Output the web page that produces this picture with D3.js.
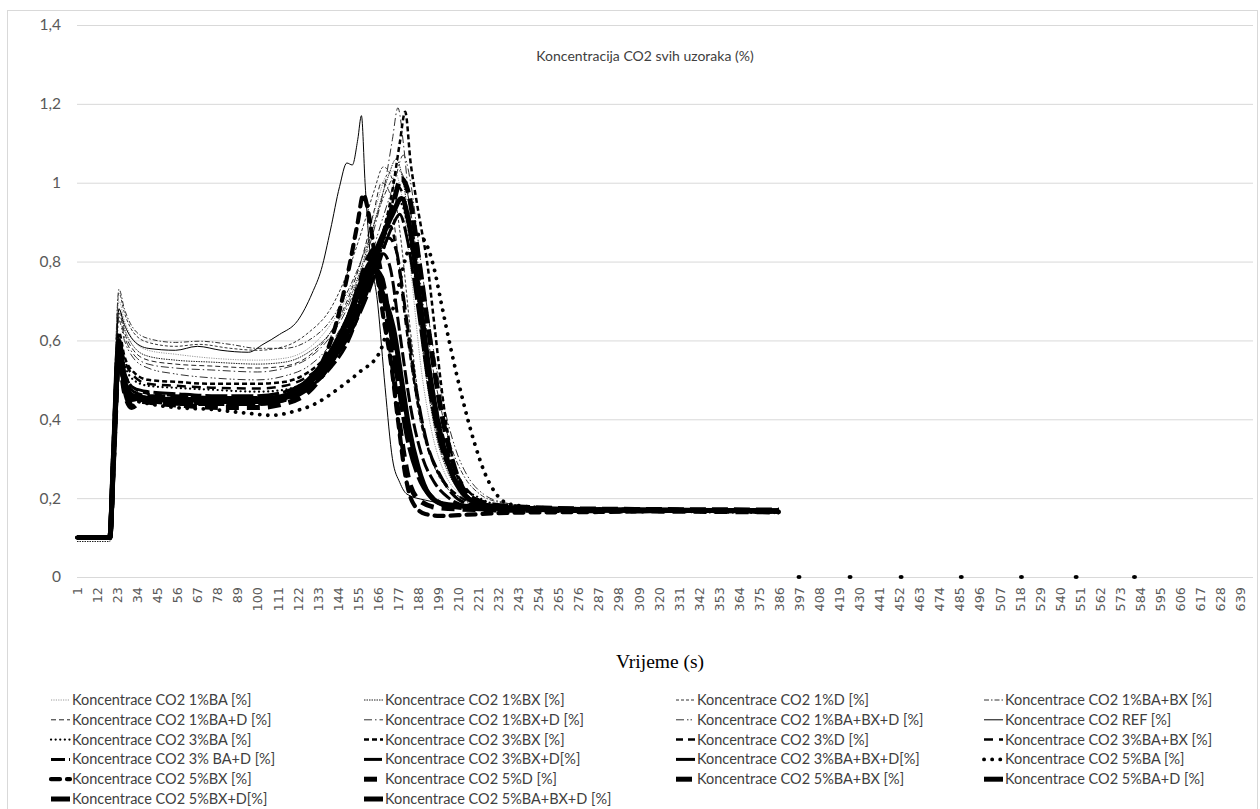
<!DOCTYPE html>
<html>
<head>
<meta charset="utf-8">
<script src="https://cdn.jsdelivr.net/npm/d3@7"></script>
<style>
  html, body { margin: 0; padding: 0; background: #fff; }
  svg { display: block; }
</style>
</head>
<body>
<svg id="chart" width="1260" height="809"></svg>
<script>
// ---------------- DATA ----------------
const chartTitle = "Koncentracija CO2 svih uzoraka (%)";
const xTitle = "Vrijeme (s)";
const yTicks = [0, 0.2, 0.4, 0.6, 0.8, 1.0, 1.2, 1.4];
const xTickLabels = d3.range(1, 646, 11); // 1, 12, 23, ... 639
const xMax = 646;
const zeroMarks = [397, 425, 453, 486, 519, 549, 581];

const seriesNames = [
  "Koncentrace CO2 1%BA [%]", "Koncentrace CO2 1%BX [%]", "Koncentrace CO2 1%D [%]", "Koncentrace CO2 1%BA+BX [%]",
  "Koncentrace CO2 1%BA+D [%]", "Koncentrace CO2 1%BX+D [%]", "Koncentrace CO2 1%BA+BX+D [%]", "Koncentrace CO2 REF [%]",
  "Koncentrace CO2 3%BA  [%]", "Koncentrace CO2 3%BX [%]", "Koncentrace CO2 3%D [%]", "Koncentrace CO2 3%BA+BX [%]",
  "Koncentrace CO2 3% BA+D [%]", "Koncentrace CO2 3%BX+D[%]", "Koncentrace CO2 3%BA+BX+D[%]", "Koncentrace CO2 5%BA [%]",
  "Koncentrace CO2 5%BX [%]", "Koncentrace CO2 5%D [%]", "Koncentrace CO2 5%BA+BX [%]", "Koncentrace CO2 5%BA+D [%]",
  "Koncentrace CO2 5%BX+D[%]", "Koncentrace CO2 5%BA+BX+D [%]"
];

// [time (s), CO2 %] pairs
const s1BA = [[1,.10],[19,.10],[21,.38],[24,.70],[27,.65],[32,.60],[40,.575],[55,.565],[75,.555],[100,.55],[115,.555],[128,.58],[140,.64],[150,.72],[158,.82],[165,.94],[171,1.02],[175,1.03],[179,.97],[184,.78],[190,.52],[196,.36],[203,.26],[211,.21],[220,.185],[240,.17],[280,.168],[330,.165],[386,.163]];
const s1BX = [[1,.09],[19,.09],[21,.36],[24,.68],[27,.63],[32,.585],[40,.56],[55,.55],[75,.545],[100,.54],[115,.545],[128,.57],[140,.62],[150,.70],[158,.80],[166,.93],[172,1.02],[176,1.06],[180,1.0],[185,.82],[191,.56],[197,.38],[204,.27],[212,.215],[222,.185],[240,.172],[280,.17],[330,.168],[386,.165]];
const s1D = [[1,.10],[19,.10],[21,.40],[24,.72],[27,.67],[32,.62],[40,.595],[55,.585],[68,.59],[85,.58],[100,.575],[115,.585],[128,.62],[140,.68],[150,.78],[158,.89],[164,.98],[169,1.04],[173,1.02],[178,.88],[184,.62],[190,.40],[197,.28],[205,.22],[214,.19],[230,.175],[280,.17],[330,.168],[386,.165]];
const s1BABX = [[1,.10],[19,.10],[21,.40],[24,.73],[27,.68],[32,.63],[40,.605],[55,.595],[68,.598],[85,.59],[100,.58],[115,.58],[128,.60],[140,.65],[150,.73],[160,.84],[168,.95],[174,1.01],[178,1.03],[182,.98],[187,.83],[193,.62],[200,.44],[207,.32],[214,.25],[222,.21],[232,.19],[260,.175],[320,.17],[386,.168]];
const s1BAD = [[1,.10],[19,.10],[21,.37],[24,.67],[27,.62],[32,.575],[40,.55],[55,.54],[75,.535],[100,.53],[115,.535],[128,.56],[140,.62],[150,.71],[158,.82],[164,.93],[168,1.0],[172,.98],[177,.82],[183,.58],[189,.40],[196,.29],[204,.23],[212,.20],[225,.18],[260,.17],[320,.165],[386,.163]];
const s1BXD = [[1,.10],[19,.10],[21,.36],[24,.66],[27,.61],[32,.565],[40,.54],[55,.53],[75,.525],[100,.52],[115,.53],[128,.555],[140,.61],[150,.69],[158,.79],[165,.90],[170,1.0],[174,1.11],[177,1.19],[180,1.10],[184,.90],[189,.65],[195,.45],[201,.32],[208,.24],[215,.20],[228,.18],[260,.172],[320,.168],[386,.165]];
const s1BABXD = [[1,.10],[19,.10],[21,.35],[24,.65],[27,.60],[32,.555],[40,.53],[55,.515],[75,.505],[100,.50],[115,.51],[128,.535],[140,.59],[150,.67],[160,.78],[168,.90],[175,1.0],[180,1.07],[184,1.0],[189,.82],[195,.62],[202,.44],[209,.32],[216,.25],[224,.21],[234,.19],[260,.175],[320,.17],[386,.168]];
const sREF = [[1,.10],[19,.10],[21,.36],[24,.68],[27,.64],[32,.60],[40,.58],[55,.575],[67,.585],[80,.575],[95,.57],[103,.59],[112,.615],[122,.65],[130,.72],[135,.78],[140,.88],[145,.99],[149,1.05],[152,1.045],[155,1.11],[157,1.17],[159,1.0],[161,.86],[166,.69],[170,.48],[174,.30],[178,.24],[182,.21],[192,.195],[205,.185],[230,.175],[280,.17],[330,.168],[386,.165]];
const s3BA = [[1,.10],[19,.10],[21,.33],[24,.60],[27,.54],[32,.50],[40,.485],[55,.48],[75,.475],[100,.47],[115,.475],[128,.50],[140,.55],[150,.62],[160,.72],[168,.83],[174,.92],[178,.95],[182,.90],[187,.74],[193,.54],[199,.39],[206,.29],[213,.23],[222,.20],[235,.18],[280,.17],[330,.165],[386,.162]];
const s3BX = [[1,.10],[19,.10],[21,.34],[24,.62],[27,.56],[32,.52],[40,.50],[55,.495],[75,.49],[100,.49],[115,.495],[128,.52],[140,.57],[150,.64],[160,.74],[168,.86],[174,.98],[178,1.10],[181,1.18],[184,1.05],[187,.96],[190,.88],[193,.80],[197,.64],[202,.44],[207,.30],[213,.22],[222,.185],[240,.172],[290,.168],[340,.17],[386,.165]];
const s3D = [[1,.10],[19,.10],[21,.32],[24,.58],[27,.52],[32,.48],[40,.465],[55,.46],[75,.455],[100,.455],[115,.46],[128,.485],[140,.54],[150,.61],[158,.70],[165,.80],[170,.87],[173,.89],[177,.80],[182,.62],[188,.44],[194,.32],[201,.25],[209,.21],[220,.185],[240,.172],[300,.17],[386,.168]];
const s3BABX = [[1,.10],[19,.10],[21,.33],[24,.60],[27,.55],[32,.51],[40,.49],[55,.485],[75,.48],[100,.478],[115,.485],[128,.51],[140,.56],[150,.63],[160,.73],[168,.84],[173,.93],[177,.99],[181,.95],[186,.80],[192,.60],[198,.43],[205,.31],[212,.24],[220,.20],[232,.18],[280,.172],[340,.17],[386,.168]];
const s3BAD = [[1,.10],[19,.10],[21,.31],[24,.57],[27,.50],[32,.46],[40,.45],[55,.45],[75,.445],[100,.445],[115,.455],[128,.48],[140,.53],[150,.60],[158,.70],[164,.78],[169,.82],[173,.78],[178,.62],[184,.43],[190,.31],[197,.24],[205,.20],[215,.18],[240,.17],[300,.168],[386,.165]];
const s3BXD = [[1,.10],[19,.10],[21,.31],[24,.57],[27,.51],[32,.47],[40,.46],[55,.46],[75,.455],[100,.455],[115,.46],[128,.49],[140,.54],[150,.61],[160,.71],[167,.80],[172,.86],[176,.83],[181,.68],[187,.48],[193,.34],[200,.26],[207,.21],[216,.185],[240,.172],[300,.17],[386,.167]];
const s3BABXD = [[1,.10],[19,.10],[21,.32],[24,.58],[27,.52],[32,.48],[40,.47],[55,.465],[75,.46],[100,.46],[115,.47],[128,.50],[140,.55],[150,.62],[160,.72],[168,.82],[174,.89],[178,.92],[182,.86],[188,.68],[194,.48],[200,.34],[207,.26],[214,.21],[224,.185],[250,.175],[310,.17],[386,.168]];
const s5BA = [[1,.10],[19,.10],[21,.30],[24,.56],[27,.49],[32,.45],[40,.44],[55,.43],[75,.425],[95,.415],[108,.41],[120,.42],[132,.44],[145,.48],[156,.52],[167,.57],[172,.64],[177,.73],[182,.82],[187,.87],[192,.85],[197,.78],[201,.69],[206,.58],[212,.46],[219,.34],[225,.26],[231,.21],[238,.185],[260,.175],[320,.17],[386,.168]];
const s5BX = [[1,.10],[19,.10],[21,.30],[24,.57],[27,.48],[30,.45],[34,.46],[40,.45],[55,.445],[75,.44],[100,.44],[115,.45],[125,.48],[135,.54],[143,.64],[150,.78],[155,.90],[158,.97],[161,.92],[165,.79],[169,.66],[173,.55],[177,.40],[181,.26],[185,.19],[192,.16],[200,.155],[215,.158],[240,.163],[290,.165],[340,.168],[386,.165]];
const s5D = [[1,.10],[19,.10],[21,.29],[24,.55],[27,.47],[31,.43],[36,.445],[45,.44],[60,.435],[80,.43],[100,.43],[115,.44],[128,.47],[138,.53],[147,.62],[155,.73],[160,.80],[164,.83],[168,.76],[172,.62],[176,.46],[180,.32],[184,.23],[190,.19],[200,.175],[230,.17],[290,.168],[386,.165]];
const s5BABX = [[1,.10],[19,.10],[21,.30],[24,.58],[27,.50],[31,.46],[36,.455],[45,.45],[60,.45],[80,.445],[100,.445],[115,.455],[128,.49],[140,.55],[150,.63],[160,.74],[168,.85],[174,.94],[179,1.01],[183,.97],[188,.82],[194,.62],[200,.44],[206,.31],[212,.23],[220,.195],[235,.18],[290,.172],[386,.17]];
const s5BAD = [[1,.10],[19,.10],[21,.30],[24,.58],[27,.49],[31,.45],[36,.455],[45,.45],[60,.45],[80,.448],[100,.447],[115,.455],[128,.49],[140,.56],[150,.66],[157,.75],[163,.80],[167,.74],[171,.69],[175,.62],[179,.50],[183,.38],[188,.28],[194,.21],[202,.185],[230,.175],[290,.17],[386,.168]];
const s5BXD = [[1,.10],[19,.10],[21,.30],[24,.57],[27,.48],[30,.44],[35,.45],[45,.445],[60,.44],[80,.44],[100,.44],[115,.45],[128,.48],[140,.54],[150,.63],[158,.72],[164,.78],[168,.76],[172,.66],[177,.50],[182,.36],[188,.26],[195,.205],[205,.18],[230,.172],[290,.17],[386,.168]];
const s5BABXD = [[1,.10],[19,.10],[21,.31],[24,.60],[27,.50],[31,.46],[36,.455],[45,.45],[60,.45],[80,.45],[100,.45],[115,.46],[128,.50],[140,.57],[150,.66],[160,.77],[168,.86],[174,.92],[179,.96],[183,.90],[188,.74],[194,.53],[200,.37],[206,.27],[213,.21],[222,.185],[240,.175],[300,.17],[386,.168]];

const seriesValues = [s1BA, s1BX, s1D, s1BABX, s1BAD, s1BXD, s1BABXD, sREF,
  s3BA, s3BX, s3D, s3BABX, s3BAD, s3BXD, s3BABXD, s5BA,
  s5BX, s5D, s5BABX, s5BAD, s5BXD, s5BABXD];

// line styles: [stroke colour, width, dasharray, linecap]
const seriesStyles = [
  ["#9a9a9a", 1, "1.2,1.2", "butt"],
  ["#222", 1, "1.5,1", "butt"],
  ["#333", 1, "3,2", "butt"],
  ["#333", 1, "5,2,1.5,2", "butt"],
  ["#222", 1, "5,3", "butt"],
  ["#333", 1, "8,3,1.5,3", "butt"],
  ["#333", 1, "8,3,1.5,2,1.5,3", "butt"],
  ["#000", 1, null, "butt"],
  ["#000", 2.2, "0.1,4.5", "round"],
  ["#000", 2.5, "5,3", "butt"],
  ["#000", 2.5, "7,5", "butt"],
  ["#000", 2.5, "9,6", "butt"],
  ["#000", 3, "14,4", "butt"],
  ["#000", 3, "18,5", "butt"],
  ["#000", 3, "22,4", "butt"],
  ["#000", 3.8, "0.1,8", "round"],
  ["#000", 4.2, "9,7", "round"],
  ["#000", 5, "13,8", "butt"],
  ["#000", 5, "16,6", "butt"],
  ["#000", 5, null, "butt"],
  ["#000", 5, "26,5", "butt"],
  ["#000", 5, null, "butt"]
];

// ---------------- CHART ----------------
const svg = d3.select("#chart");
const plotL = 77, plotR = 1253, plotT = 25, plotB = 577;

svg.append("rect").attr("x", 7.5).attr("y", 10.5).attr("width", 1250).attr("height", 820)
  .attr("fill", "#fff").attr("stroke", "#d9d9d9").attr("stroke-width", 1);

const x = d3.scaleLinear().domain([1, xMax]).range([plotL, plotR]);
const y = d3.scaleLinear().domain([0, 1.4]).range([plotB, plotT]);

const fmt = v => d3.format("~g")(+v.toFixed(1)).replace(".", ",");

// gridlines
const grid = svg.append("g").attr("transform", `translate(${plotL},0)`)
  .call(d3.axisLeft(y).tickValues(yTicks).tickSize(-(plotR - plotL)).tickFormat(""));
grid.select(".domain").remove();
grid.selectAll("line").attr("stroke", "#d9d9d9").attr("stroke-width", 1);

// y axis labels
const yAx = svg.append("g").attr("transform", `translate(${plotL},0)`)
  .call(d3.axisLeft(y).tickValues(yTicks).tickSize(0).tickPadding(16).tickFormat(fmt));
yAx.select(".domain").remove();
yAx.selectAll("text").attr("font-family", "Lato, 'Open Sans', sans-serif")
  .attr("font-size", 15.5).attr("fill", "#595959");

// x axis labels
const xAx = svg.append("g").attr("transform", `translate(0,${plotB})`)
  .call(d3.axisBottom(x).tickValues(xTickLabels).tickSize(0).tickFormat(d3.format("d")));
xAx.select(".domain").remove();
xAx.selectAll("text")
  .attr("transform", "rotate(-90)")
  .attr("text-anchor", "end")
  .attr("x", -10).attr("y", 0).attr("dy", "0.35em")
  .attr("font-family", "'DejaVu Sans', sans-serif")
  .attr("font-size", 12.8).attr("fill", "#595959");

// title
svg.append("text").attr("x", 645).attr("y", 61).attr("text-anchor", "middle")
  .attr("font-family", "Lato, sans-serif").attr("font-size", 14).attr("fill", "#404040")
  .text(chartTitle);

// x title
svg.append("text").attr("x", 660).attr("y", 668).attr("text-anchor", "middle")
  .attr("font-family", "'Liberation Serif', 'Times New Roman', serif").attr("font-size", 19.5).attr("fill", "#000")
  .text(xTitle);

// series
const line = d3.line().x(d => x(d[0])).y(d => y(d[1])).curve(d3.curveMonotoneX);
const gSeries = svg.append("g");
seriesValues.forEach((vals, i) => {
  const st = seriesStyles[i];
  gSeries.append("path").datum(vals)
    .attr("d", line)
    .attr("fill", "none")
    .attr("stroke", st[0])
    .attr("stroke-width", st[1])
    .attr("stroke-dasharray", st[2])
    .attr("stroke-linecap", st[3])
    .attr("stroke-linejoin", "round");
});

// small marks on the zero line
svg.append("g").selectAll("ellipse").data(zeroMarks).join("ellipse")
  .attr("cx", d => x(d)).attr("cy", y(0)).attr("rx", 2.5).attr("ry", 2).attr("fill", "#000");

// legend
const colX = [72, 385, 697, 1005];
const rowY0 = 700, rowStep = 19.8;
const leg = svg.append("g");
seriesNames.forEach((name, i) => {
  const c = i % 4, r = Math.floor(i / 4);
  const tx = colX[c], ty = rowY0 + r * rowStep;
  const st = seriesStyles[i];
  leg.append("line").attr("x1", tx - 21).attr("x2", tx - 2).attr("y1", ty).attr("y2", ty)
    .attr("stroke", st[0]).attr("stroke-width", st[1])
    .attr("stroke-dasharray", st[2]).attr("stroke-linecap", st[3]);
  leg.append("text").attr("x", tx).attr("y", ty).attr("dy", "0.35em")
    .attr("font-family", "Lato, sans-serif").attr("font-size", 14.5).attr("fill", "#404040")
    .text(name);
});
</script>
</body>
</html>
